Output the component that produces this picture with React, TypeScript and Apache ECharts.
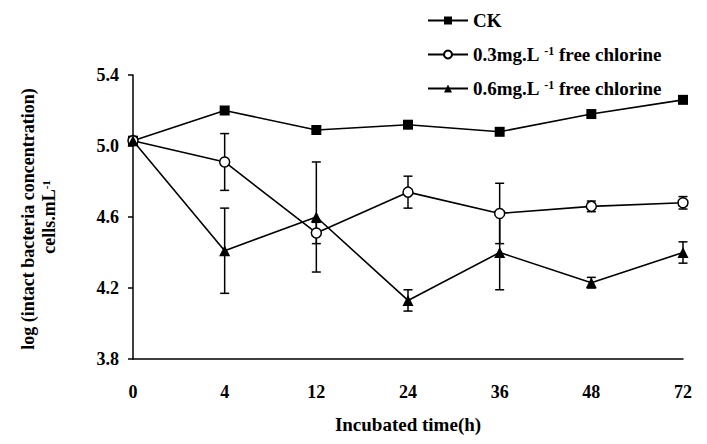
import React, { useEffect, useRef } from "react";
import * as echarts from "echarts";

const categories = ["0", "4", "12", "24", "36", "48", "72"];
const seriesNames = ["CK", "0.3mg.L-1 free chlorine", "0.6mg.L-1 free chlorine"];
const ckValues = [5.03, 5.2, 5.09, 5.12, 5.08, 5.18, 5.26];
const low03Values = [5.03, 4.91, 4.51, 4.74, 4.62, 4.66, 4.68];
const low03Errors = [0, 0.16, 0.06, 0.09, 0.17, 0.03, 0.035];
const high06Values = [5.03, 4.41, 4.6, 4.13, 4.4, 4.23, 4.4];
const high06Errors = [0, 0.24, 0.31, 0.06, 0.21, 0.03, 0.06];
const yTicks = [3.8, 4.2, 4.6, 5.0, 5.4];
const xAxisTitle = "Incubated time(h)";
const yTitleLine1 = "log (intact bacteria concentration)";
const yTitleLine2 = "cells.mL";
const yTitleSup = "-1";

const FONT = "'Liberation Serif', 'Times New Roman', serif";

function errorData(values: number[], errors: number[]) {
  const out: number[][] = [];
  values.forEach((v, i) => {
    if (errors[i] > 0) out.push([i, v - errors[i], v + errors[i]]);
  });
  return out;
}

function renderErrorBar(params: any, api: any) {
  const x = api.value(0);
  const lo = api.coord([x, api.value(1)]);
  const hi = api.coord([x, api.value(2)]);
  const w = 4.5;
  const style = { stroke: "#000", lineWidth: 1.5 };
  return {
    type: "group",
    children: [
      { type: "line", shape: { x1: lo[0], y1: lo[1], x2: hi[0], y2: hi[1] }, style },
      { type: "line", shape: { x1: lo[0] - w, y1: lo[1], x2: lo[0] + w, y2: lo[1] }, style },
      { type: "line", shape: { x1: hi[0] - w, y1: hi[1], x2: hi[0] + w, y2: hi[1] }, style },
    ],
  };
}

export default function App() {
  const ref = useRef<HTMLDivElement>(null);
  useEffect(() => {
    document.body.style.margin = "0";
    const chart = echarts.init(ref.current!, null, { renderer: "svg" });
    const lineStyle = { color: "#000", width: 1.6 };
    const textBase = { fontFamily: FONT, fontWeight: "bold" as const, color: "#000" };
    chart.setOption({
      animation: false,
      backgroundColor: "#fff",
      grid: { left: 133, right: 24, top: 75, bottom: 85 },
      legend: {
        orient: "vertical",
        left: 422,
        top: 6,
        itemWidth: 40,
        itemHeight: 10,
        itemGap: 15,
        data: seriesNames,
        formatter: (name: string) => {
          if (name.indexOf("L-1") < 0) return `{t|${name}}`;
          const [a, b] = name.split("L-1");
          return `{t|${a}L }{s|-1}{t|${b}}`;
        },
        textStyle: {
          ...textBase,
          fontSize: 19,
          rich: {
            t: { ...textBase, fontSize: 19 },
            s: { ...textBase, fontSize: 12, verticalAlign: "top" },
          },
        },
      },
      graphic: [
        {
          type: "text",
          x: 28,
          y: 219,
          rotation: Math.PI / 2,
          style: {
            text: yTitleLine1,
            ...textBase,
            fill: "#000",
            fontSize: 18,
            align: "center",
            verticalAlign: "middle",
          },
        },
        {
          type: "text",
          x: 49,
          y: 217,
          rotation: Math.PI / 2,
          style: {
            text: `{t|${yTitleLine2}}{s|${yTitleSup}}`,
            fill: "#000",
            align: "center",
            verticalAlign: "middle",
            rich: {
              t: { fontFamily: FONT, fontWeight: "bold", fontSize: 18, fill: "#000" },
              s: { fontFamily: FONT, fontWeight: "bold", fontSize: 11, fill: "#000", verticalAlign: "top" },
            },
          },
        },
      ],
      xAxis: {
        type: "category",
        data: categories,
        boundaryGap: false,
        axisLine: { lineStyle: { color: "#000", width: 1.5 } },
        axisTick: { show: false },
        axisLabel: { ...textBase, fontSize: 18, margin: 24 },
        name: xAxisTitle,
        nameLocation: "middle",
        nameGap: 56,
        nameTextStyle: { ...textBase, fontSize: 19, verticalAlign: "top" },
      },
      yAxis: {
        type: "value",
        min: 3.8,
        max: 5.4,
        axisLine: { show: true, lineStyle: { color: "#000", width: 1.5 } },
        axisTick: { show: true, length: 5, customValues: yTicks, lineStyle: { color: "#000", width: 1.5 } },
        axisLabel: {
          ...textBase,
          fontSize: 18,
          margin: 14,
          customValues: yTicks,
          formatter: (v: number) => v.toFixed(1),
        },
        splitLine: { show: false },
      },
      series: [
        {
          name: seriesNames[0],
          type: "line",
          data: ckValues,
          symbol: "rect",
          symbolSize: 10,
          lineStyle,
          itemStyle: { color: "#000" },
          z: 3,
        },
        {
          name: seriesNames[1],
          type: "line",
          data: low03Values,
          symbol: "circle",
          symbolSize: 10,
          lineStyle,
          itemStyle: { color: "#fff", borderColor: "#000", borderWidth: 1.5 },
          z: 3,
        },
        {
          name: seriesNames[2],
          type: "line",
          data: high06Values,
          symbol: "triangle",
          symbolSize: 11,
          lineStyle,
          itemStyle: { color: "#000" },
          z: 3,
        },
        {
          type: "custom",
          renderItem: renderErrorBar,
          data: errorData(low03Values, low03Errors),
          encode: { x: 0, y: [1, 2] },
          z: 1,
          silent: true,
        },
        {
          type: "custom",
          renderItem: renderErrorBar,
          data: errorData(high06Values, high06Errors),
          encode: { x: 0, y: [1, 2] },
          z: 1,
          silent: true,
        },
      ],
    });
    return () => chart.dispose();
  }, []);
  return <div ref={ref} style={{ width: 707, height: 444 }} />;
}
